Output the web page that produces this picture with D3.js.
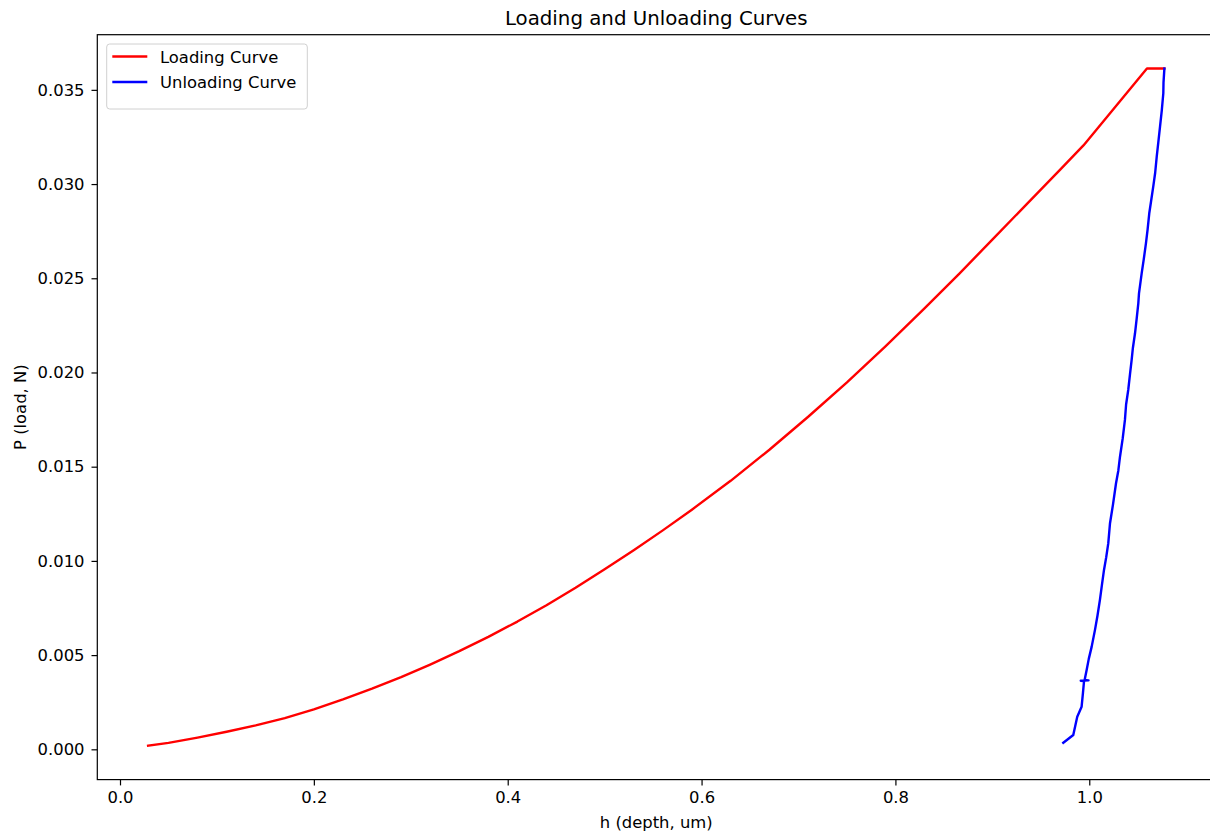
<!DOCTYPE html>
<html>
<head>
<meta charset="utf-8">
<script src="https://cdn.jsdelivr.net/npm/d3@7"></script>
<style>
  body { margin: 0; background: #fff; }
  svg text { font-family: "DejaVu Sans", sans-serif; fill: #000; }
</style>
</head>
<body>
<svg width="1210" height="833"></svg>
<script>
// loading curve (h in um, P in N)
var loadH = [0.029, 0.05, 0.08, 0.11, 0.14, 0.17, 0.20, 0.23, 0.26, 0.29, 0.32, 0.35, 0.38, 0.41, 0.44,
             0.47, 0.50, 0.53, 0.56, 0.59, 0.63, 0.67, 0.71, 0.75, 0.79, 0.83, 0.866, 0.90, 0.935, 0.97,
             0.994, 1.0595, 1.0775];
var loadP = [0.00019, 0.00034, 0.00062, 0.00093, 0.00127, 0.00166, 0.00212, 0.00265, 0.00322, 0.00383,
             0.00450, 0.00521, 0.00597, 0.00678, 0.00765, 0.00858, 0.00956, 0.01057, 0.01162, 0.01272,
             0.01425, 0.01590, 0.01765, 0.01948, 0.02140, 0.02340, 0.02525, 0.02705, 0.02891, 0.03077,
             0.03205, 0.03613, 0.03613];

// unloading curve
var unloadH = [1.0775, 1.0766, 1.0764, 1.0748, 1.0730, 1.0712, 1.0696, 1.0680, 1.0660, 1.0638, 1.0619,
               1.0602, 1.0585, 1.0562, 1.0541, 1.0513, 1.0506, 1.0490, 1.0472, 1.0450, 1.0437, 1.0420,
               1.0402, 1.0380, 1.0368, 1.0345, 1.0317, 1.0300, 1.0276, 1.0245, 1.0214, 1.0196, 1.0175,
               1.0152, 1.0130, 1.0110, 1.0085, 1.0059, 1.0025, 0.9995, 0.9973, 0.9952, 0.9992, 0.9912,
               0.9946, 0.9935, 0.9921, 0.9876, 0.9835, 0.9732];
var unloadP = [0.03613, 0.03540, 0.03482, 0.03390, 0.03305, 0.03220, 0.03145, 0.03060, 0.02986, 0.02910,
               0.02845, 0.02760, 0.02686, 0.02600, 0.02527, 0.02420, 0.02367, 0.02290, 0.02208, 0.02130,
               0.02066, 0.01990, 0.01907, 0.01830, 0.01748, 0.01650, 0.01553, 0.01480, 0.01412, 0.01300,
               0.01200, 0.01093, 0.01020, 0.00952, 0.00870, 0.00793, 0.00710, 0.00634, 0.00545, 0.00480,
               0.00421, 0.00368, 0.00366, 0.00364, 0.00362, 0.00300, 0.00226, 0.00173, 0.00076, 0.00035];

var xTicks = [0.0, 0.2, 0.4, 0.6, 0.8, 1.0];
var yTicks = [0.000, 0.005, 0.010, 0.015, 0.020, 0.025, 0.030, 0.035];

var loading = loadH.map(function(h, i) { return {h: h, p: loadP[i]}; });
var unloading = unloadH.map(function(h, i) { return {h: h, p: unloadP[i]}; });
var all = loading.concat(unloading);

var svg = d3.select("svg");
var axL = 97.3, axR = 1215.2, axT = 34.7, axB = 779.6;
var fs = "16.4px";

// matplotlib-style 5% padding
function padded(ext) { var d = (ext[1] - ext[0]) * 0.05; return [ext[0] - d, ext[1] + d]; }
var x = d3.scaleLinear().domain(padded(d3.extent(all, function(d) { return d.h; }))).range([axL, axR]);
var y = d3.scaleLinear().domain(padded(d3.extent(all, function(d) { return d.p; }))).range([axB, axT]);

var line = d3.line().x(function(d) { return x(d.h); }).y(function(d) { return y(d.p); });

var plot = svg.append("g");
plot.append("path").datum(loading)
  .attr("d", line).attr("fill", "none").attr("stroke", "#ff0000")
  .attr("stroke-width", 2.4).attr("stroke-linejoin", "round").attr("stroke-linecap", "square");
plot.append("path").datum(unloading)
  .attr("d", line).attr("fill", "none").attr("stroke", "#0000ff")
  .attr("stroke-width", 2.4).attr("stroke-linejoin", "round").attr("stroke-linecap", "square");

// axes
var xAxis = svg.append("g").attr("transform", "translate(0," + axB + ")")
  .call(d3.axisBottom(x).tickValues(xTicks).tickFormat(d3.format(".1f")).tickSize(5.8).tickPadding(5.5));
var yAxis = svg.append("g").attr("transform", "translate(" + axL + ",0)")
  .call(d3.axisLeft(y).tickValues(yTicks).tickFormat(d3.format(".3f")).tickSize(5.8).tickPadding(7));
[xAxis, yAxis].forEach(function(a) {
  a.select(".domain").remove();
  a.selectAll("line").attr("stroke", "#000").attr("stroke-width", 1.2);
  a.selectAll("text").style("font-size", fs).attr("fill", "#000");
});

// spines
svg.append("rect").attr("x", axL).attr("y", axT)
  .attr("width", axR - axL).attr("height", axB - axT)
  .attr("fill", "none").attr("stroke", "#000").attr("stroke-width", 1.2);

svg.append("text").attr("x", (axL + axR) / 2).attr("y", 25)
  .attr("text-anchor", "middle").style("font-size", "19.8px").text("Loading and Unloading Curves");
svg.append("text").attr("x", (axL + axR) / 2).attr("y", 828)
  .attr("text-anchor", "middle").style("font-size", fs).text("h (depth, um)");
svg.append("text").attr("transform", "translate(26," + (axT + axB) / 2 + ") rotate(-90)")
  .attr("text-anchor", "middle").style("font-size", fs).text("P (load, N)");

// legend
var legend = svg.append("g");
legend.append("rect").attr("x", 106.7).attr("y", 44).attr("width", 200.6).attr("height", 65)
  .attr("rx", 3).attr("fill", "#fff").attr("fill-opacity", 0.8)
  .attr("stroke", "#d0d0d0").attr("stroke-width", 1);
var items = [{label: "Loading Curve", color: "#ff0000"}, {label: "Unloading Curve", color: "#0000ff"}];
items.forEach(function(it, i) {
  var yy = 56.5 + i * 25.5;
  legend.append("line").attr("x1", 112.3).attr("x2", 147.3).attr("y1", yy).attr("y2", yy)
    .attr("stroke", it.color).attr("stroke-width", 2.4);
  legend.append("text").attr("x", 160).attr("y", yy + 6).style("font-size", fs).text(it.label);
});
</script>
</body>
</html>
